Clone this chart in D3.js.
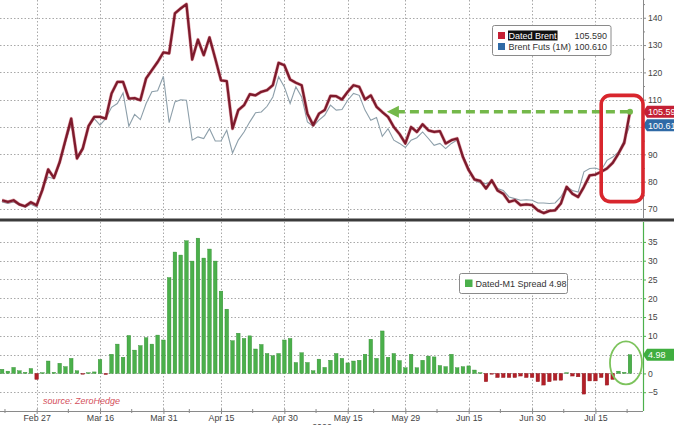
<!DOCTYPE html>
<html><head><meta charset="utf-8">
<script src="https://cdn.jsdelivr.net/npm/d3@7/dist/d3.min.js"></script>
<style>
body{margin:0;background:#fff;}
svg{display:block;font-family:"Liberation Sans",Arial,sans-serif;}
</style>
</head><body>
<svg id="chart" width="674" height="425"></svg>
<script>
// ---- data (trading days, index 0..109) ----
const datedBrent = [73.2,72.6,73.2,71.7,71.0,72.5,71.4,77.0,84.5,81.4,
  87.2,95.2,103.1,88.5,92.1,100.3,103.7,103.7,103.1,112.3,
  116.5,116.5,110.4,110.6,109.8,117.8,120.8,123.8,127.3,127.0,
  141.6,143.4,145.0,124.7,132.0,126.3,132.8,125.1,117.1,116.8,
  99.4,106.2,108.0,112.0,111.6,112.9,113.5,115.3,123.5,122.6,
  117.4,116.2,115.3,104.9,100.7,104.9,106.2,111.4,111.3,110.1,
  112.9,115.3,114.7,110.1,111.6,107.4,105.5,103.7,100.0,97.4,
  94.0,100.0,98.2,101.0,98.8,98.2,98.5,94.0,95.2,95.8,
  89.0,84.2,80.8,80.3,77.5,80.5,76.8,75.6,72.6,73.2,
  71.4,71.7,71.4,69.5,68.5,69.3,69.5,72.0,78.1,75.6,
  74.4,78.1,82.3,82.6,83.6,84.8,86.9,90.3,94.2,105.59];
const brentFuts = [72.6,72.0,72.6,71.4,70.7,71.7,70.7,78.0,81.7,81.1,
  86.6,94.5,101.3,89.0,92.7,100.3,103.1,100.7,103.1,107.2,
  108.6,112.5,100.3,104.6,102.7,108.6,112.9,113.3,118.6,101.6,
  109.2,110.0,109.8,95.2,96.4,95.8,99.4,94.9,94.9,98.8,
  90.5,95.2,98.2,101.9,105.2,105.5,107.6,111.0,118.4,114.7,
  108.6,114.7,111.0,101.9,100.3,102.5,104.3,108.0,106.2,106.4,
  109.8,112.3,111.6,106.2,102.5,103.5,96.6,99.4,95.2,94.0,
  92.5,95.2,96.1,98.2,95.8,93.3,94.0,92.1,94.0,95.2,
  89.7,84.8,80.5,79.5,79.3,79.9,77.5,76.8,74.4,73.8,
  73.2,73.4,73.2,72.2,72.2,72.0,72.2,74.4,78.1,76.8,
  76.2,83.6,84.8,85.0,84.2,87.8,89.0,90.9,95.2,100.61];
const spread = [1.1,0.6,1.6,0.7,0.3,1.3,-1.6,0.2,3.3,0.3,
  2.7,1.8,4.0,0.7,-0.2,0.2,0.4,3.7,-0.3,5.1,
  7.8,4.3,10.1,6.2,7.4,9.5,7.8,10.2,8.9,25.5,
  32.3,31.5,35.3,29.9,36.0,30.7,33.1,29.9,21.9,17.1,
  8.7,10.7,9.3,10.0,6.5,7.7,5.3,4.7,5.3,8.9,
  9.3,2.9,5.5,2.9,0.7,3.8,1.6,3.5,5.3,4.0,
  2.8,3.3,3.5,5.1,9.1,4.0,11.3,4.3,5.3,3.4,
  1.5,5.1,1.5,3.5,4.6,4.4,2.1,1.8,5.1,1.5,
  1.8,2.0,0.9,0.2,-2.2,-0.1,-1.1,-1.1,-1.1,-1.1,
  -0.7,-1.1,-1.1,-2.2,-3.1,-2.2,-1.8,-1.8,0.2,-0.7,
  -0.9,-5.5,-2.0,-2.0,-1.1,-3.1,-1.6,0.6,0.3,4.98];
const xTickLabels = ["Feb 27","Mar 16","Mar 31","Apr 15","Apr 30","May 15","May 29","Jun 15","Jun 30","Jul 15"];
const xTickIndex  = [6,17,28,38,49,60,70,81,92,103];
const priceTicks  = [70,80,90,100,110,120,130,140];
const spreadTicks = [-5,0,5,10,15,20,25,30,35];
const seriesNames = ["Dated Brent","Brent Futs (1M)","Dated-M1 Spread"];
const lastLabels  = ["105.590","100.610","4.98"];
const tagLabels   = ["105.59","100.61","4.98"];
const yearLabel   = "2022";
const sourceLabel = "source: ZeroHedge";

// ---- colours ----
const C = {dated:"#7d1a2c", datedTag:"#c42035", futs:"#8d9faa", futsTag:"#2f6aa6",
  green:"#4bb04b", greenDark:"#2f8a2f", red:"#b31f28", grid:"#a8a8a8", axis:"#8a8a8a",
  text:"#444", annoGreen:"#74b84a", annoRed:"#d8262d"};

const svg = d3.select("#chart");
const AX = 643;               // right axis x
const x = d3.scaleLinear().domain([0, datedBrent.length-1]).range([2.1, 630]);
const yTop = d3.scaleLinear().domain([66.7, 146.5]).range([218, 0]);
const yBot = d3.scaleLinear().domain([-10, 40.3]).range([411, 222]);

// ---- grids ----
const grid = svg.append("g").attr("stroke", C.grid).attr("stroke-width", 1).attr("stroke-dasharray", "1.5,2");
priceTicks.forEach(v => grid.append("line").attr("x1",0).attr("x2",AX).attr("y1",Math.round(yTop(v))+0.5).attr("y2",Math.round(yTop(v))+0.5));
spreadTicks.forEach(v => grid.append("line").attr("x1",0).attr("x2",AX).attr("y1",Math.round(yBot(v))+0.5).attr("y2",Math.round(yBot(v))+0.5));
xTickIndex.forEach(i => {
  const xx = Math.round(x(i))+0.5;
  grid.append("line").attr("x1",xx).attr("x2",xx).attr("y1",0).attr("y2",218);
  grid.append("line").attr("x1",xx).attr("x2",xx).attr("y1",222).attr("y2",411);
});

// ---- bars ----
const bw = 3.6;
svg.append("g").selectAll("rect").data(spread).join("rect")
  .attr("x", (d,i) => x(i) - bw/2)
  .attr("width", bw)
  .attr("y", d => yBot(Math.max(0,d)))
  .attr("height", d => Math.max(0.8, Math.abs(yBot(d) - yBot(0))))
  .attr("fill", d => d >= 0 ? C.green : C.red)
  .attr("stroke", d => d >= 0 ? C.greenDark : "#8c1a20")
  .attr("stroke-width", 0.4);

// ---- lines ----
const line = d3.line().x((d,i) => x(i)).y(d => yTop(d));
svg.append("path").datum(brentFuts).attr("d", line).attr("fill","none")
  .attr("stroke", C.futs).attr("stroke-width", 1.1);
svg.append("path").datum(datedBrent).attr("d", line).attr("fill","none")
  .attr("stroke", "#c23a4a").attr("stroke-width", 3.4).attr("stroke-opacity",0.45).attr("stroke-linejoin","round");
svg.append("path").datum(datedBrent).attr("d", line).attr("fill","none")
  .attr("stroke", C.dated).attr("stroke-width", 2.3).attr("stroke-linejoin","round");

// ---- separator ----
svg.append("rect").attr("x",0).attr("y",218.5).attr("width",674).attr("height",3).attr("fill","#3b3b3b");

// ---- right axes (labels hidden behind the value tags are not drawn) ----
const hiddenTop = [100], hiddenBot = [5];
const axTop = svg.append("g").attr("transform",`translate(${AX},0)`)
  .call(d3.axisRight(yTop).tickValues(priceTicks).tickSize(3).tickPadding(2));
axTop.select(".domain").attr("d","M0.5,0V218").attr("stroke",C.axis);
axTop.selectAll(".tick line").attr("stroke",C.axis);
axTop.selectAll("text").attr("fill",C.text).attr("font-size",8.6);
axTop.selectAll(".tick").filter(d => hiddenTop.includes(d)).select("text").remove();
svg.append("g").attr("transform",`translate(${AX},0)`)
  .call(d3.axisRight(yTop).tickValues(priceTicks.map(v=>v+5).filter(v=>v<146)).tickSize(2).tickFormat(""))
  .call(g => { g.select(".domain").remove(); g.selectAll("line").attr("stroke",C.axis); });

const axBot = svg.append("g").attr("transform",`translate(${AX},0)`)
  .call(d3.axisRight(yBot).tickValues(spreadTicks).tickSize(3).tickPadding(2));
axBot.select(".domain").attr("d","M0.5,222V411").attr("stroke",C.green).attr("stroke-width",1.2);
axBot.selectAll(".tick line").attr("stroke",C.green);
axBot.selectAll("text").attr("fill",C.text).attr("font-size",8.6);
axBot.selectAll(".tick").filter(d => hiddenBot.includes(d)).select("text").remove();

// ---- bottom axis ----
const axX = svg.append("g").attr("transform","translate(0,411)")
  .call(d3.axisBottom(x).tickValues(xTickIndex).tickFormat((d,i)=>xTickLabels[i]).tickSize(3).tickPadding(1));
axX.select(".domain").attr("d",`M0,0.5H${AX}`).attr("stroke",C.axis);
axX.selectAll(".tick line").attr("stroke",C.axis).attr("y1",-2);
axX.selectAll("text").attr("fill",C.text).attr("font-size",8.8);
const minorIdx = xTickIndex.map(i => i - 5.5).concat([xTickIndex[xTickIndex.length-1] + 5.5]);
svg.append("g").attr("stroke",C.axis).selectAll("line").data(minorIdx).join("line")
  .attr("x1",d=>x(d)).attr("x2",d=>x(d)).attr("y1",409).attr("y2",413);

svg.append("text").attr("x",322).attr("y",430).attr("text-anchor","middle")
  .attr("font-size",8.8).attr("fill",C.text).text(yearLabel);

// ---- value tags ----
function tag(cy, fill, label, txtFill){
  const g = svg.append("g");
  g.append("path").attr("d",`M${AX},${cy}L${AX+4},${cy-6}H676V${cy+6}H${AX+4}Z`).attr("fill",fill);
  g.append("text").attr("x",AX+5).attr("y",cy+3.2).attr("font-size",9).attr("fill",txtFill).text(label);
}
tag(yTop(datedBrent[datedBrent.length-1]), C.datedTag, tagLabels[0], "#fff");
tag(yTop(brentFuts[brentFuts.length-1]), C.futsTag, tagLabels[1], "#fff");
tag(yBot(spread[spread.length-1]), "#3fae3f", tagLabels[2], "#fff");

// ---- legends ----
const lg = svg.append("g").attr("font-size",9);
lg.append("rect").attr("x",492.5).attr("y",25.5).attr("width",118.5).attr("height",30).attr("rx",2)
  .attr("fill","#fff").attr("stroke","#8a8a8a");
[[C.datedTag,0],[C.futsTag,1]].forEach(([col,k]) => {
  const cy = 35.5 + k*11;
  lg.append("rect").attr("x",498).attr("y",cy-3.5).attr("width",7).attr("height",7).attr("fill",col);
  const hl = k===0 ? lg.append("rect").attr("y",cy-5).attr("height",10).attr("fill","#111") : null;
  const t = lg.append("text").attr("x",508.5).attr("y",cy+3.2).attr("fill",k===0?"#fff":"#333").text(seriesNames[k]);
  if (hl) { const b = t.node().getBBox(); hl.attr("x", b.x - 0.5).attr("width", b.width + 1); }
  lg.append("text").attr("x",607).attr("y",cy+3.2).attr("text-anchor","end").attr("fill","#333").text(lastLabels[k]);
});
lg.append("rect").attr("x",459.5).attr("y",273.5).attr("width",108).attr("height",20).attr("rx",2)
  .attr("fill","#fff").attr("stroke","#8a8a8a");
lg.append("rect").attr("x",465).attr("y",279.5).attr("width",7.5).attr("height",7.5).attr("fill",C.green);
lg.append("text").attr("x",475.5).attr("y",286.5).attr("fill","#333").text(`${seriesNames[2]} ${lastLabels[2]}`);

// ---- annotations ----
const last = datedBrent.length-1;
const ay = yTop(datedBrent[last]);
const ax0 = x(66.8);
svg.append("line").attr("x1",ax0+9).attr("x2",x(last)).attr("y1",ay).attr("y2",ay)
  .attr("stroke",C.annoGreen).attr("stroke-width",3.6).attr("stroke-dasharray","9,5");
svg.append("path").attr("d",`M${ax0},${ay}L${ax0+12},${ay-6}L${ax0+12},${ay+6}Z`).attr("fill",C.annoGreen);
svg.append("circle").attr("cx",x(last)).attr("cy",ay).attr("r",3).attr("fill",C.annoGreen);

svg.append("rect").attr("x",x(104)).attr("y",yTop(111.6)).attr("width",AX - x(104)).attr("height",yTop(72.7)-yTop(111.6))
  .attr("rx",9).attr("fill","none").attr("stroke",C.annoRed).attr("stroke-width",3.6);

svg.append("ellipse").attr("cx",x(108.3)).attr("cy",yBot(2.8)).attr("rx",16).attr("ry",21.5)
  .attr("fill","none").attr("stroke","#7cc35c").attr("stroke-width",1.8);

svg.append("text").attr("x",43).attr("y",403.5).attr("font-size",9).attr("font-style","italic")
  .attr("fill","#d4505c").text(sourceLabel);
</script>
</body></html>
